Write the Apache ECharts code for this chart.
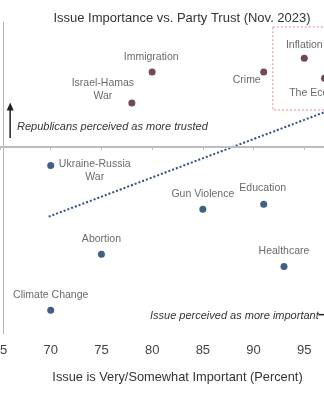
<!DOCTYPE html>
<html>
<head>
<meta charset="utf-8">
<script src="https://cdn.jsdelivr.net/npm/echarts@6/dist/echarts.min.js"></script>
<style>
html,body{margin:0;padding:0;background:#fff;}
#chart{width:324px;height:400px;}
</style>
</head>
<body>
<div id="chart"></div>
<script>
// ---- data ----
var repNames = ['Immigration', 'Israel-Hamas\nWar', 'Crime', 'Inflation', 'The Economy'];
var repX = [80, 78, 91, 95, 97];
var repY = [6.0, 3.5, 6.0, 7.1, 5.5];

var demNames = ['Ukraine-Russia\nWar', 'Gun Violence', 'Education', 'Abortion', 'Healthcare', 'Climate Change'];
var demX = [70, 85, 91, 75, 93, 70];
var demY = [-1.5, -5.0, -4.6, -8.6, -9.6, -13.1];

var trendX = [69.8, 100];
var trendY = [-5.6, 3.7];

var xTicks = [65, 70, 75, 80, 85, 90, 95, 100];

// ---- styling (label offsets, px) ----
var labelOffsets = {
  'Immigration': [-1, -15],
  'Israel-Hamas\nWar': [-29, -14],
  'Crime': [-17, 8],
  'Inflation': [0, -13],
  'The Economy': [-3, 15],
  'Ukraine-Russia\nWar': [44, 5],
  'Gun Violence': [0, -15],
  'Education': [-1, -16],
  'Abortion': [0, -15],
  'Healthcare': [0, -15],
  'Climate Change': [0, -15]
};

var FONT = '"Liberation Sans", Arial, sans-serif';

function buildPoints(names, xs, ys) {
  return names.map(function (n, i) {
    return {
      name: n,
      value: [xs[i], ys[i]],
      label: { offset: labelOffsets[n] || [0, -15] }
    };
  });
}

var pointLabel = {
  show: true,
  position: 'inside',
  align: 'center',
  verticalAlign: 'middle',
  formatter: function (p) { return p.name; },
  color: '#444',
  fontSize: 10.5,
  lineHeight: 13,
  fontFamily: FONT
};

var chart = echarts.init(document.getElementById('chart'), null, { renderer: 'canvas' });

chart.setOption({
  animation: false,
  backgroundColor: '#fff',
  title: {
    text: 'Issue Importance vs. Party Trust (Nov. 2023)',
    left: 177,
    top: 7,
    textAlign: 'center',
    textStyle: { fontSize: 13, fontWeight: 'normal', color: '#333', fontFamily: FONT }
  },
  grid: { left: 0, right: -31, top: 22, bottom: 66, containLabel: false, outerBoundsMode: 'none' },
  xAxis: {
    type: 'value',
    min: 65,
    max: 100,
    interval: 5,
    name: 'Issue is Very/Somewhat Important (Percent)',
    nameLocation: 'middle',
    nameGap: 37,
    nameTextStyle: { fontSize: 12.8, color: '#333', fontFamily: FONT },
    axisLine: { show: true, lineStyle: { color: '#b5b5b5', width: 1 } },
    axisTick: { show: true, length: 3, lineStyle: { color: '#b5b5b5' } },
    axisLabel: {
      show: true, margin: 10, fontSize: 13, color: '#444', fontFamily: FONT,
      formatter: function (v) { return xTicks.indexOf(v) >= 0 ? String(v) : ''; }
    },
    splitLine: { show: false }
  },
  yAxis: {
    type: 'value',
    min: -15,
    max: 10,
    offset: -3,
    axisLine: { show: true, onZero: false, lineStyle: { color: '#b5b5b5', width: 1 } },
    axisTick: { show: false },
    axisLabel: { show: false },
    splitLine: { show: false }
  },
  series: [
    {
      name: 'zero',
      type: 'line',
      data: [],
      markLine: {
        silent: true,
        symbol: 'none',
        label: { show: false },
        lineStyle: { color: '#bdbdbd', width: 2, type: 'solid' },
        data: [{ yAxis: 0 }]
      }
    },
    {
      name: 'trend',
      type: 'line',
      data: trendX.map(function (x, i) { return [x, trendY[i]]; }),
      symbol: 'none',
      lineStyle: { color: '#2f4f80', width: 2, type: [2, 2] },
      z: 1
    },
    {
      name: 'box',
      type: 'line',
      data: [],
      markArea: {
        silent: true,
        itemStyle: { color: 'rgba(0,0,0,0)', borderColor: '#e08a8a', borderWidth: 1, borderType: [2, 2] },
        data: [[{ coord: [91.9, 9.6] }, { coord: [100, 2.95] }]]
      }
    },
    {
      name: 'Republicans',
      type: 'scatter',
      symbolSize: 7,
      itemStyle: { color: '#4e1a2c' },
      label: pointLabel,
      data: buildPoints(repNames, repX, repY),
      z: 3
    },
    {
      name: 'Democrats',
      type: 'scatter',
      symbolSize: 7,
      itemStyle: { color: '#0f3a66' },
      label: pointLabel,
      data: buildPoints(demNames, demX, demY),
      z: 3
    }
  ]
});

// annotation arrows, placed through the chart's own scales
function px(x, y) { return chart.convertToPixel({ gridIndex: 0 }, [x, y]); }
var vA = px(66.0, 0.7), vB = px(66.0, 3.55);
var hA = px(96.4, -13.45), hB = px(99.5, -13.45);
chart.setOption({
  graphic: [
    {
      type: 'text', left: 17, top: 121, silent: true,
      style: { text: 'Republicans perceived as more trusted', font: 'italic 11px ' + FONT, fill: '#333' }
    },
    {
      type: 'text', left: 150, top: 310, silent: true,
      style: { text: 'Issue perceived as more important', font: 'italic 11px ' + FONT, fill: '#333' }
    },
    {
      type: 'line', silent: true,
      shape: { x1: vA[0], y1: vA[1], x2: vB[0], y2: vB[1] + 6 },
      style: { stroke: '#222', lineWidth: 1.5 }
    },
    {
      type: 'polygon', silent: true,
      shape: { points: [[vB[0], vB[1]], [vB[0] - 3.5, vB[1] + 8], [vB[0] + 3.5, vB[1] + 8]] },
      style: { fill: '#222' }
    },
    {
      type: 'line', silent: true,
      shape: { x1: hA[0], y1: hA[1], x2: hB[0] - 6, y2: hB[1] },
      style: { stroke: '#222', lineWidth: 1.5 }
    },
    {
      type: 'polygon', silent: true,
      shape: { points: [[hB[0], hB[1]], [hB[0] - 8, hB[1] - 3.5], [hB[0] - 8, hB[1] + 3.5]] },
      style: { fill: '#222' }
    }
  ]
});
</script>
</body>
</html>
